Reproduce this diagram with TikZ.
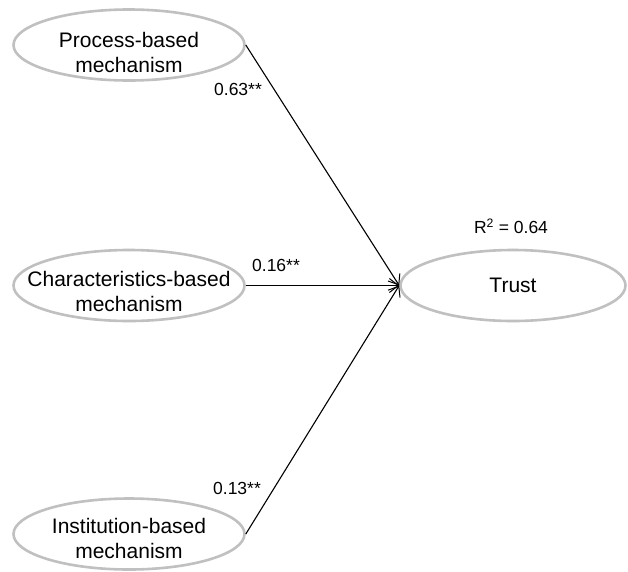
\documentclass[tikz,border=0pt]{standalone}
\usepackage{fontspec}
\setmainfont{Liberation Sans}
\usetikzlibrary{shapes.geometric,arrows.meta}
\definecolor{ringgray}{RGB}{192,192,192}
\begin{document}
\begin{tikzpicture}[x=1pt,y=-1pt,
  latent/.style={ellipse,draw=ringgray,line width=2.6pt,minimum width=231pt,minimum height=71pt,inner sep=0pt},
  ltext/.style={align=center,inner sep=0pt,font=\fontsize{21}{25}\selectfont},
  path/.style={draw=black,line width=1.1pt,-{Straight Barb[length=9pt,width=14pt,line width=1pt]}},
  coef/.style={font=\fontsize{17.5}{20}\selectfont,inner sep=0pt}]
\useasboundingbox[fill=white] (0,0) rectangle (628,571);
\node[latent] (proc) at (129,45) {};
\node[latent] (char) at (129,285.5) {};
\node[latent] (inst) at (129,534) {};
\node[latent,minimum width=225pt] (trust) at (513,285.5) {};
\node[ltext] (proct) at (129,52) {Process-based\\mechanism};
\node[ltext] (chart) at (129,291) {Characteristics-based\\mechanism};
\node[ltext] (instt) at (129,538) {Institution-based\\mechanism};
\node[ltext] (trustt) at (513,285.5) {Trust};
\draw[path] (proc.east) -- (trust.west);
\draw[path] (char.east) -- (trust.west);
\draw[path] (inst.east) -- (trust.west);
\node[coef] (l1) at (238,89) {0.63**};
\node[coef] (l2) at (276,265) {0.16**};
\node[coef] (l3) at (237,488) {0.13**};
\node[coef] (r2) at (511,226) {R\textsuperscript{2} = 0.64};
\end{tikzpicture}
\end{document}
